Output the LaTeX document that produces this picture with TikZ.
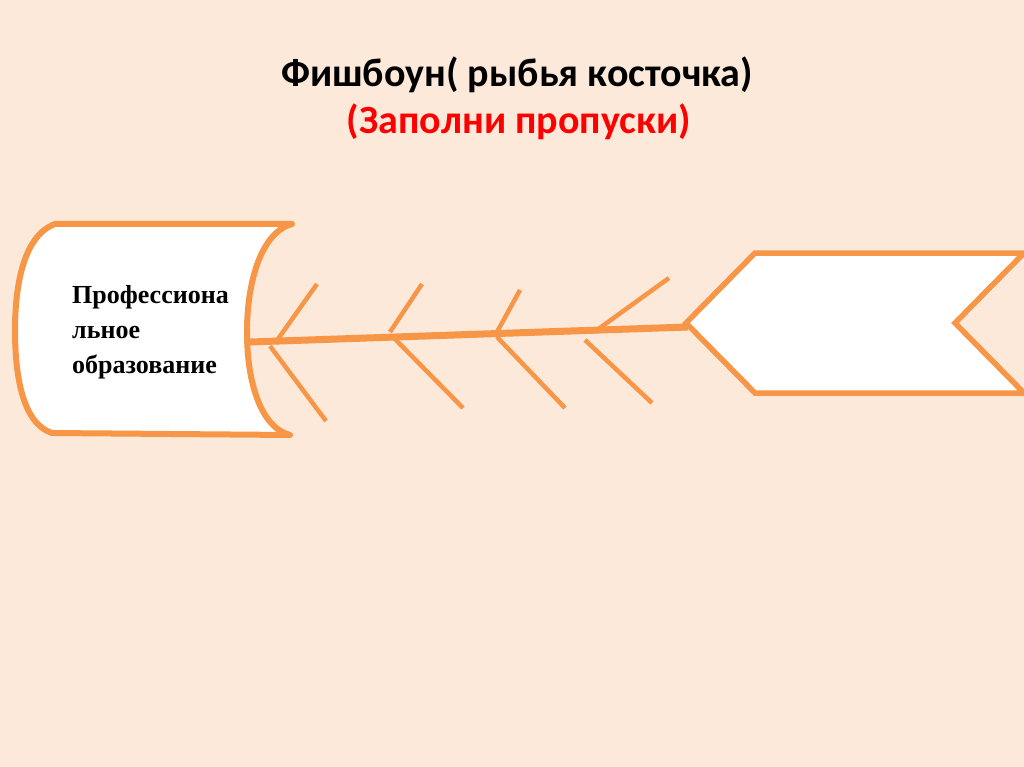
\documentclass[tikz,border=0pt]{standalone}
\usepackage{fontspec}
\setmainfont{Liberation Serif}
\newfontfamily\titlefont{Carlito}
\definecolor{bg}{RGB}{252,233,218}
\definecolor{bone}{RGB}{247,150,70}
\definecolor{redtxt}{RGB}{255,0,0}
\tikzset{
  outline/.style={draw=bone, line width=6pt, fill=white, line join=round, line cap=round},
  spine/.style={draw=bone, line width=7pt},
  rib/.style={draw=bone, line width=4.5pt},
  title/.style={font=\titlefont\bfseries\fontsize{40}{48}\selectfont, inner sep=0pt, anchor=base},
  body/.style={font=\bfseries\fontsize{26}{35}\selectfont, inner sep=0pt, anchor=base west},
}
\begin{document}
\begin{tikzpicture}[x=1pt,y=-1pt]
\useasboundingbox (0,0) rectangle (1024,767);
\fill[bg] (0,0) rectangle (1024,767);

% title
\node[title] (t1) at (517,87) {Фишбоун( рыбья косточка)};
\node[title, text=redtxt] (t2) at (519,134) {(Заполни пропуски)};

% head (scroll)
\path[outline] (292,224) -- (55,224)
  .. controls (22,236) and (15,290) .. (15,330)
  .. controls (15,380) and (24,424) .. (52,433)
  -- (290,435)
  .. controls (262,428) and (247,385) .. (247,332)
  .. controls (247,280) and (262,232) .. (292,224);

% text
\node[body] (l1) at (72,303) {Профессиона};
\node[body] (l2) at (72,338) {льное};
\node[body] (l3) at (72,373) {образование};

% spine
\coordinate (s0) at (250,342);
\coordinate (s1) at (688,327);
\draw[spine] (s0) -- (s1);

% ribs
\coordinate (u1a) at (317,284); \coordinate (u1b) at (278,339);
\coordinate (d1a) at (270,346); \coordinate (d1b) at (326,421);
\coordinate (u2a) at (422,284); \coordinate (u2b) at (390,332);
\coordinate (d2a) at (393,337); \coordinate (d2b) at (463,408);
\coordinate (u3a) at (520,290); \coordinate (u3b) at (497,332);
\coordinate (d3a) at (497,337); \coordinate (d3b) at (565,408);
\coordinate (u4a) at (669,278); \coordinate (u4b) at (597,330);
\coordinate (d4a) at (585,340); \coordinate (d4b) at (652,403);
\draw[rib] (u1a) -- (u1b);
\draw[rib] (d1a) -- (d1b);
\draw[rib] (u2a) -- (u2b);
\draw[rib] (d2a) -- (d2b);
\draw[rib] (u3a) -- (u3b);
\draw[rib] (d3a) -- (d3b);
\draw[rib] (u4a) -- (u4b);
\draw[rib] (d4a) -- (d4b);

% tail (chevron)
\path[outline, line width=5.5pt, line join=miter, line cap=butt] (686,323) -- (755,253) -- (1024,253) -- (955,323) -- (1024,393) -- (755,393) -- cycle;
\end{tikzpicture}
\end{document}
